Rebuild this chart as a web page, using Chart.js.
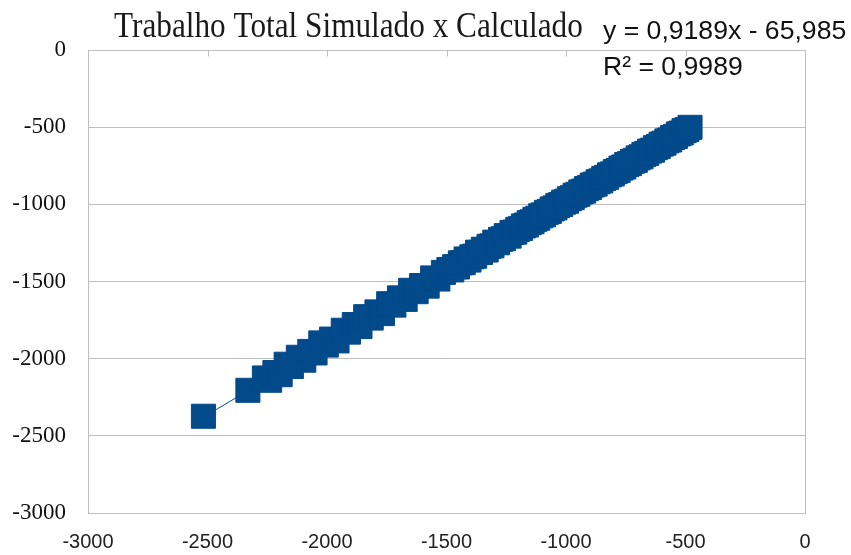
<!DOCTYPE html>
<html>
<head>
<meta charset="utf-8">
<script src="https://cdn.jsdelivr.net/npm/chart.js@4/dist/chart.umd.min.js"></script>
<style>
  html, body { margin: 0; padding: 0; background: #ffffff; }
  canvas { display: block; }
</style>
</head>
<body>
<canvas id="chart" width="851" height="555"></canvas>
<script>
// Títulos e rótulos
const chartTitle = 'Trabalho Total Simulado x Calculado';

// Trabalho total: valor simulado (eixo x) e valor calculado (eixo y)
const simulado = [
  -2517, -2331, -2262, -2240, -2218, -2196, -2171, -2149, -2120, -2097,
  -2072, -2050, -2026, -2003, -1981, -1958, -1932, -1910, -1886, -1862,
  -1838, -1815, -1791, -1768, -1742, -1720, -1697, -1673, -1650, -1627,
  -1604, -1581, -1558, -1536, -1513,
  -1490, -1478, -1466, -1454, -1442, -1430, -1418, -1406, -1394, -1382,
  -1370, -1358, -1346, -1334, -1322, -1310, -1298, -1286, -1274, -1262,
  -1250, -1238, -1226, -1214, -1202, -1190, -1178, -1166, -1154, -1142,
  -1130, -1118, -1106, -1094, -1082, -1070, -1058, -1046, -1034, -1022,
  -1010, -998, -986, -974, -962, -950, -938, -926, -914, -902,
  -890, -878, -866, -854, -842, -830, -818, -806, -794, -782,
  -770, -758, -746, -734, -722, -710, -698, -686, -674, -662,
  -650, -638, -626, -614, -602, -590, -578, -566, -554, -542,
  -530, -518, -506, -494, -481
];
const calculado = [
  -2373, -2205, -2125, -2140, -2090, -2104, -2036, -2051, -1991, -2010,
  -1953, -1963, -1898, -1912, -1873, -1885, -1816, -1828, -1779, -1792,
  -1728, -1737, -1697, -1708, -1644, -1653, -1606, -1616, -1557, -1566,
  -1526, -1530, -1477, -1484, -1441,
  -1422, -1425, -1404, -1406, -1379, -1378, -1354, -1361, -1340, -1336,
  -1310, -1312, -1291, -1296, -1272, -1269, -1245, -1249, -1227, -1223,
  -1203, -1206, -1182, -1180, -1162, -1156, -1140, -1134, -1119, -1113,
  -1097, -1090, -1074, -1068, -1052, -1046, -1030, -1023, -1007, -1001,
  -986, -980, -964, -957, -941, -935, -920, -914, -898, -891,
  -875, -869, -854, -848, -832, -825, -809, -803, -788, -781,
  -765, -758, -742, -736, -721, -715, -699, -692, -676, -670,
  -655, -649, -633, -626, -610, -604, -589, -583, -567, -560,
  -544, -538, -523, -516, -501
];

// Marcas dos eixos
const xTicks = [-3000, -2500, -2000, -1500, -1000, -500, 0];
const yTicks = [-3000, -2500, -2000, -1500, -1000, -500, 0];

// Linha de tendência linear
const trendSlope = 0.9189;
const trendIntercept = -65.985;
const trendR2 = 0.9989;

const markerColor = '#034a8b';
const gridColor = '#bdbdbd';

const fmtComma = (v, d) => v.toFixed(d).replace('.', ',');
const equationText = 'y = ' + fmtComma(trendSlope, 4) + 'x ' +
  (trendIntercept < 0 ? '- ' : '+ ') + fmtComma(Math.abs(trendIntercept), 3);
const r2Text = 'R² = ' + fmtComma(trendR2, 4);

const points = simulado.map((x, i) => ({ x: x, y: calculado[i] }));
const xMinData = Math.min(...simulado);
const xMaxData = Math.max(...simulado);
const trendPoints = [xMinData, xMaxData].map(x => ({ x: x, y: trendSlope * x + trendIntercept }));

// Moldura da área de plotagem e marcas do eixo x no topo (y = 0)
const framePlugin = {
  id: 'frame',
  beforeDatasetsDraw(chart) {
    const { ctx, chartArea: a, scales } = chart;
    ctx.save();
    ctx.strokeStyle = gridColor;
    ctx.lineWidth = 1;
    const l = Math.round(a.left) + 0.5, r = Math.round(a.right) + 0.5;
    const t = Math.round(a.top) + 0.5, b = Math.round(a.bottom) + 0.5;
    ctx.strokeRect(l, t, r - l, b - t);
    ctx.beginPath();
    xTicks.forEach(v => {
      const px = Math.round(scales.x.getPixelForValue(v)) + 0.5;
      ctx.moveTo(px, t);
      ctx.lineTo(px, t + 6);
    });
    ctx.stroke();
    ctx.restore();
  }
};

// Título e equação da tendência
const textPlugin = {
  id: 'texts',
  afterDraw(chart) {
    const ctx = chart.ctx;
    ctx.save();
    ctx.fillStyle = '#1a1a1a';
    ctx.textBaseline = 'alphabetic';
    ctx.textAlign = 'left';
    ctx.font = '36px "Liberation Serif", "Times New Roman", serif';
    ctx.translate(114, 37);
    ctx.scale(0.868, 1);
    ctx.fillText(chartTitle, 0, 0);
    ctx.restore();

    ctx.save();
    ctx.fillStyle = '#111111';
    ctx.textBaseline = 'alphabetic';
    ctx.textAlign = 'left';
    ctx.font = '26.6px "Liberation Sans", Arial, sans-serif';
    ctx.fillText(equationText, 603, 39);
    ctx.fillText(r2Text, 603, 75);
    ctx.restore();
  }
};

new Chart(document.getElementById('chart'), {
  type: 'scatter',
  data: {
    datasets: [
      {
        label: 'Linear',
        data: trendPoints,
        showLine: true,
        borderColor: markerColor,
        borderWidth: 1,
        pointRadius: 0,
        fill: false
      },
      {
        label: 'Trabalho Total',
        data: points,
        showLine: false,
        pointStyle: 'rect',
        pointRadius: 17,
        pointBorderWidth: 1,
        backgroundColor: markerColor,
        borderColor: markerColor
      }
    ]
  },
  options: {
    responsive: false,
    animation: false,
    devicePixelRatio: 1,
    layout: { padding: { left: 0, right: 46, top: 50, bottom: 0 } },
    plugins: {
      legend: { display: false },
      tooltip: { enabled: false },
      title: { display: false }
    },
    scales: {
      x: {
        type: 'linear',
        position: 'bottom',
        min: -3000,
        max: 0,
        afterBuildTicks(scale) { scale.ticks = xTicks.map(v => ({ value: v })); },
        afterFit(scale) { scale.height = 42; },
        ticks: {
          callback: v => String(v),
          color: '#222222',
          padding: 17,
          maxRotation: 0,
          font: { family: '"Liberation Sans", Arial, sans-serif', size: 20 }
        },
        grid: { display: false, drawTicks: false },
        border: { display: false }
      },
      y: {
        type: 'linear',
        position: 'left',
        min: -3000,
        max: 0,
        afterBuildTicks(scale) { scale.ticks = yTicks.map(v => ({ value: v })); },
        afterFit(scale) { scale.width = 88; },
        ticks: {
          callback: v => String(v),
          color: '#111111',
          padding: 22,
          font: { family: '"Liberation Serif", "Times New Roman", serif', size: 23 }
        },
        grid: { color: gridColor, lineWidth: 1, drawTicks: false },
        border: { display: false }
      }
    }
  },
  plugins: [framePlugin, textPlugin]
});
</script>
</body>
</html>
